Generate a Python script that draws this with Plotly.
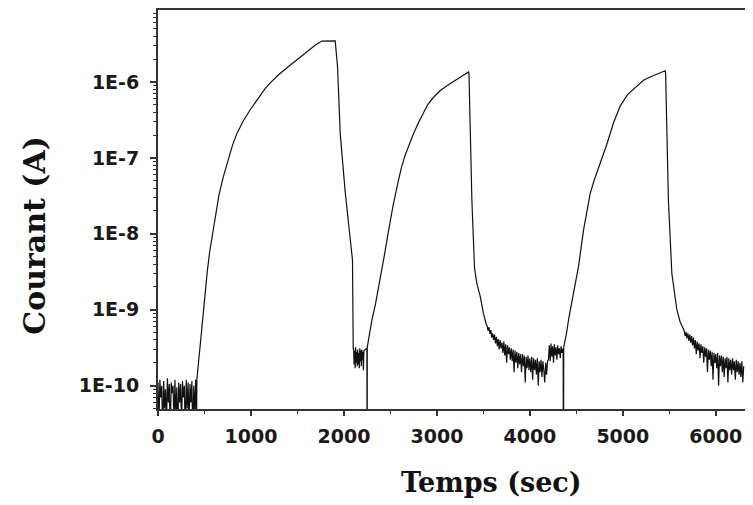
import numpy as np
import plotly.graph_objects as go

# ---------------- data (time in s, current in A) ----------------
# baseline noise before first illumination (0 - 415 s)
base_start, base_end = 0, 415
i_base = [1.1e-10, 3e-11, 1.2e-10, 7e-11, 1.0e-10, 2e-11, 1.15e-10, 5e-11, 9e-11, 3e-11,
          1.25e-10, 6e-11, 1.05e-10, 2e-11, 1.1e-10, 8e-11, 1.0e-10, 3e-11, 1.2e-10, 4e-11,
          9.5e-11, 2e-11, 1.1e-10, 6e-11, 1.05e-10, 3e-11, 1.15e-10, 7e-11, 1.0e-10, 2e-11,
          1.2e-10, 5e-11, 1.1e-10, 3e-11, 1.05e-10, 6e-11, 1.15e-10, 2e-11, 1.0e-10, 4e-11,
          1.2e-10, 3e-11]

# first rise and decay
t_r1 = [418, 425, 440, 455, 470, 487, 508, 530, 556, 586, 618, 655, 700, 757, 800, 849,
        920, 992, 1050, 1100, 1150, 1207, 1300, 1404, 1500, 1620, 1700, 1763, 1850, 1906,
        1931, 1960, 2014, 2050, 2086, 2092, 2100]
i_r1 = [1.2e-10, 1.6e-10, 2.3e-10, 3.5e-10, 5.5e-10, 1.0e-9, 1.8e-9, 3.2e-9, 5.8e-9, 1.0e-8,
        1.8e-8, 3.2e-8, 5.5e-8, 1.0e-7, 1.45e-7, 2.1e-7, 3.1e-7, 4.3e-7, 5.5e-7, 6.7e-7,
        8.1e-7, 9.7e-7, 1.25e-6, 1.6e-6, 2.0e-6, 2.65e-6, 3.1e-6, 3.45e-6, 3.47e-6, 3.47e-6,
        1.6e-6, 2.1e-7, 3.5e-8, 1.4e-8, 5e-9, 4.5e-9, 3.0e-10]

# noisy dark level after first decay
c1_start, c1_end = 2104, 2215
i_c1 = [3.1e-10, 1.9e-10, 2.9e-10, 1.7e-10, 3.2e-10, 2.0e-10, 2.8e-10, 1.8e-10, 3.0e-10,
        1.9e-10, 2.7e-10, 1.7e-10, 3.1e-10, 2.1e-10, 2.9e-10, 1.8e-10, 3.0e-10, 2.2e-10,
        2.8e-10, 1.6e-10, 2.9e-10]

# spike + second rise and decay
t_r2 = [2230, 2247, 2249, 2251, 2275, 2301, 2340, 2390, 2435, 2480, 2530, 2587, 2620, 2660,
        2700, 2749, 2800, 2856, 2900, 2950, 3030, 3108, 3200, 3280, 3340, 3345, 3376, 3405,
        3430, 3466, 3500, 3530]
i_r2 = [3.0e-10, 3.1e-10, 1e-12, 3.2e-10, 4.8e-10, 7.3e-10, 1.2e-9, 2.5e-9, 5.2e-9, 1.1e-8,
        2.4e-8, 5.1e-8, 7.6e-8, 1.1e-7, 1.51e-7, 2.09e-7, 2.88e-7, 3.98e-7, 5.0e-7, 6.0e-7,
        7.6e-7, 8.9e-7, 1.05e-6, 1.23e-6, 1.35e-6, 1.3e-6, 2.8e-8, 3.5e-9, 2.2e-9, 1.5e-9,
        9e-10, 6.5e-10]

# noisy decay after second pulse
d2_start, d2_end = 3540, 4190
i_d2 = [6.1e-10, 5.3e-10, 5.9e-10, 4.8e-10, 5.4e-10, 4.3e-10, 4.9e-10,
        4.0e-10, 4.7e-10, 3.6e-10, 4.4e-10, 3.3e-10, 4.1e-10, 3.0e-10, 4.0e-10, 3.1e-10, 3.7e-10,
        2.7e-10, 3.8e-10, 2.5e-10, 3.5e-10, 2.0e-10, 3.4e-10, 2.6e-10, 3.2e-10, 2.2e-10, 3.1e-10,
        2.1e-10, 3.0e-10, 1.5e-10, 2.9e-10, 2.0e-10, 2.8e-10, 1.7e-10, 2.7e-10, 1.9e-10, 2.6e-10,
        1.5e-10, 2.6e-10, 1.8e-10, 2.5e-10, 1.1e-10, 2.4e-10, 1.7e-10, 2.5e-10, 1.6e-10, 2.3e-10,
        1.5e-10, 2.4e-10, 1.2e-10, 2.3e-10, 1.6e-10, 2.2e-10, 1.4e-10, 2.3e-10, 1.0e-10, 2.1e-10,
        1.5e-10, 2.2e-10, 1.3e-10, 2.1e-10, 1.6e-10, 1.1e-10, 2.0e-10, 1.4e-10, 2.1e-10]

# small bump before third pulse
b3_start, b3_end = 4200, 4354
i_b3 = [2.2e-10, 3.4e-10, 2.1e-10, 3.6e-10, 2.4e-10, 3.3e-10, 2.0e-10, 3.5e-10, 2.5e-10,
        3.2e-10, 2.2e-10, 3.4e-10, 2.6e-10, 3.1e-10, 2.3e-10, 3.3e-10, 2.7e-10, 3.0e-10]

# spike + third rise and decay
t_r3 = [4358, 4361, 4364, 4395, 4420, 4469, 4523, 4577, 4615, 4649, 4690, 4738, 4780, 4828,
        4900, 4971, 5050, 5130, 5222, 5300, 5380, 5455, 5460, 5490, 5527, 5555, 5581, 5615,
        5650]
i_r3 = [3.1e-10, 1e-12, 3.2e-10, 5.0e-10, 7.9e-10, 1.66e-9, 3.7e-9, 1.12e-8, 2.0e-8, 3.4e-8,
        5.0e-8, 7.2e-8, 1.05e-7, 1.51e-7, 2.9e-7, 4.8e-7, 6.8e-7, 8.3e-7, 1.05e-6, 1.17e-6,
        1.29e-6, 1.4e-6, 1.3e-6, 2.8e-8, 3.0e-9, 1.8e-9, 1.0e-9, 7.0e-10, 5.4e-10]

# noisy decay after third pulse
d3_start, d3_end = 5660, 6300
i_d3 = [5.3e-10, 4.5e-10, 5.1e-10, 4.2e-10, 4.9e-10, 3.9e-10, 4.7e-10, 3.7e-10, 4.5e-10, 3.4e-10,
        4.3e-10, 3.1e-10, 4.0e-10, 2.6e-10, 3.8e-10, 2.9e-10, 3.6e-10, 2.3e-10, 3.5e-10, 2.7e-10,
        3.3e-10, 2.0e-10, 3.2e-10, 2.4e-10, 3.1e-10, 1.5e-10, 3.0e-10, 2.2e-10, 2.9e-10, 1.8e-10,
        2.8e-10, 1.2e-10, 2.7e-10, 2.0e-10, 2.6e-10, 1.7e-10, 2.7e-10, 1.0e-10, 2.5e-10, 1.8e-10,
        2.5e-10, 1.5e-10, 2.4e-10, 1.3e-10, 2.3e-10, 1.7e-10, 2.4e-10, 1.1e-10, 2.3e-10, 1.6e-10,
        2.2e-10, 1.4e-10, 2.3e-10, 1.6e-10, 2.1e-10, 1.2e-10, 2.2e-10, 1.5e-10, 2.1e-10, 1.4e-10,
        2.0e-10, 1.3e-10, 2.1e-10, 1.1e-10, 1.8e-10]

x_ticks = [0, 1000, 2000, 3000, 4000, 5000, 6000]
x_minor = [500, 1500, 2500, 3500, 4500, 5500]
y_ticks = [1e-10, 1e-9, 1e-8, 1e-7, 1e-6]
y_ticktext = ["1E-10", "1E-9", "1E-8", "1E-7", "1E-6"]

# ---------------- assemble ----------------
def grid(a, b, vals):
    return list(np.linspace(a, b, len(vals)))

t_all = (grid(base_start, base_end, i_base) + t_r1 + grid(c1_start, c1_end, i_c1) + t_r2
         + grid(d2_start, d2_end, i_d2) + grid(b3_start, b3_end, i_b3) + t_r3
         + grid(d3_start, d3_end, i_d3))
i_all = i_base + i_r1 + i_c1 + i_r2 + i_d2 + i_b3 + i_r3 + i_d3

fig = go.Figure()
fig.add_trace(go.Scatter(x=t_all, y=i_all, mode="lines",
                         line=dict(color="#111111", width=1.2), hoverinfo="skip"))

axis_col = "#333333"
tick_font = dict(family="DejaVu Sans", size=19, color="#1a1a1a", weight="bold")

minor_y = [k * 10.0 ** e for e in range(-11, -5) for k in range(2, 10)
           if -10.307 <= np.log10(k * 10.0 ** e) <= -5.053]

# page body has an 8px margin, so the figure is 8px smaller than the window
fig.update_layout(
    width=745, height=497,
    margin=dict(l=150, r=0, t=2, b=96),
    plot_bgcolor="white", paper_bgcolor="white",
    showlegend=False,
    xaxis=dict(range=[0, 6400], tickmode="array", tickvals=x_ticks,
               ticks="outside", ticklen=5, tickwidth=1.5, tickcolor=axis_col,
               showline=True, linecolor=axis_col, linewidth=2, mirror=True,
               showgrid=False, zeroline=False, tickfont=tick_font,
               ticklabelstandoff=4,
               minor=dict(tickmode="array", tickvals=x_minor,
                          ticks="outside", ticklen=3, tickwidth=1.2, tickcolor=axis_col,
                          showgrid=False)),
    yaxis=dict(type="log", range=[-10.307, -5.053], tickmode="array",
               tickvals=y_ticks, ticktext=y_ticktext,
               ticks="outside", ticklen=6, tickwidth=1.5, tickcolor=axis_col,
               showline=True, linecolor=axis_col, linewidth=2,
               showgrid=False, zeroline=False, tickfont=tick_font,
               ticklabelstandoff=7,
               minor=dict(tickmode="array", tickvals=minor_y, ticks="outside",
                          ticklen=3, tickwidth=1, tickcolor=axis_col, showgrid=False)),
    annotations=[
        dict(text="Temps (sec)", xref="paper", yref="paper", x=0.56, y=-0.185,
             xanchor="center", yanchor="middle", showarrow=False,
             font=dict(family="DejaVu Serif", size=27, color="#111111", weight="bold")),
        dict(text="Courant (A)", xref="paper", yref="paper", x=-0.209, y=0.436,
             xanchor="center", yanchor="middle", showarrow=False, textangle=-90,
             font=dict(family="DejaVu Serif", size=30, color="#111111", weight="bold")),
    ],
)

fig.write_html("out.html")
